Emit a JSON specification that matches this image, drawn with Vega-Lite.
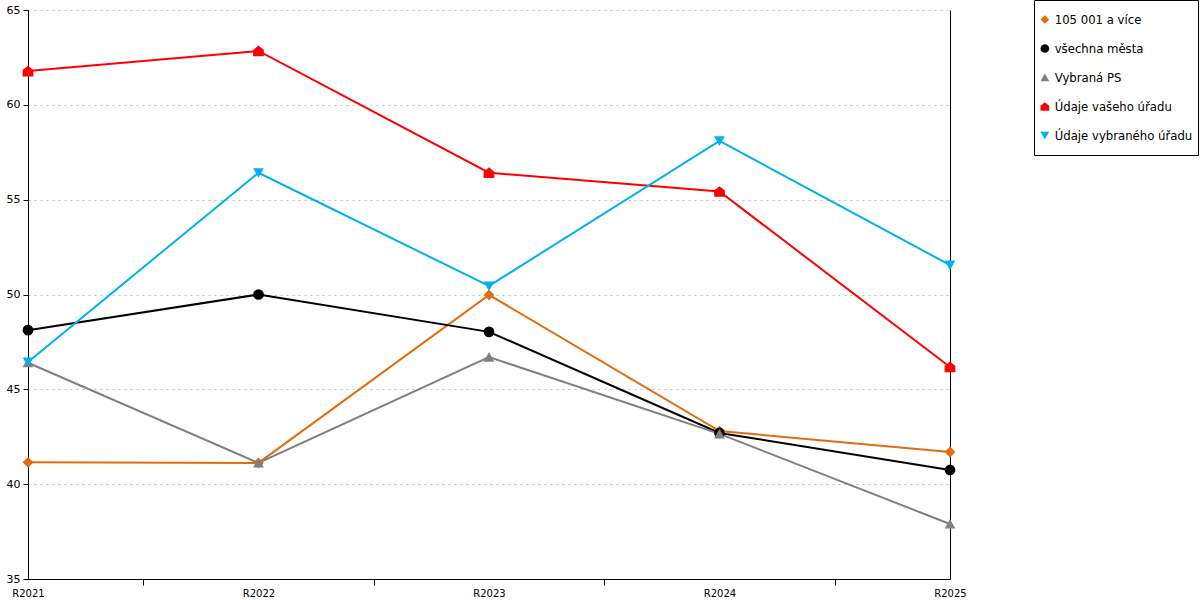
{
  "$schema": "https://vega.github.io/schema/vega-lite/v6.json",
  "width": 922,
  "height": 569,
  "autosize": {"type": "none"},
  "padding": {"left": 28, "top": 10, "right": 250, "bottom": 21},
  "background": "white",
  "config": {
    "font": "DejaVu Sans",
    "view": {"stroke": null},
    "axis": {"labelFont": "DejaVu Sans", "labelColor": "#000000", "domainColor": "#000000", "tickColor": "#000000"}
  },
  "data": {
    "values": [
      {"rok": 2021, "serie": "105 001 a více", "hodnota": 41.15},
      {"rok": 2022, "serie": "105 001 a více", "hodnota": 41.12},
      {"rok": 2023, "serie": "105 001 a více", "hodnota": 49.98},
      {"rok": 2024, "serie": "105 001 a více", "hodnota": 42.8},
      {"rok": 2025, "serie": "105 001 a více", "hodnota": 41.7},
      {"rok": 2021, "serie": "všechna města", "hodnota": 48.12},
      {"rok": 2022, "serie": "všechna města", "hodnota": 50.0},
      {"rok": 2023, "serie": "všechna města", "hodnota": 48.03},
      {"rok": 2024, "serie": "všechna města", "hodnota": 42.7},
      {"rok": 2025, "serie": "všechna města", "hodnota": 40.75},
      {"rok": 2021, "serie": "Vybraná PS", "hodnota": 46.4},
      {"rok": 2022, "serie": "Vybraná PS", "hodnota": 41.12},
      {"rok": 2023, "serie": "Vybraná PS", "hodnota": 46.7},
      {"rok": 2024, "serie": "Vybraná PS", "hodnota": 42.65},
      {"rok": 2025, "serie": "Vybraná PS", "hodnota": 37.9},
      {"rok": 2021, "serie": "Údaje vašeho úřadu", "hodnota": 61.78},
      {"rok": 2022, "serie": "Údaje vašeho úřadu", "hodnota": 62.84},
      {"rok": 2023, "serie": "Údaje vašeho úřadu", "hodnota": 56.42},
      {"rok": 2024, "serie": "Údaje vašeho úřadu", "hodnota": 55.43},
      {"rok": 2025, "serie": "Údaje vašeho úřadu", "hodnota": 46.18},
      {"rok": 2021, "serie": "Údaje vybraného úřadu", "hodnota": 46.44},
      {"rok": 2022, "serie": "Údaje vybraného úřadu", "hodnota": 56.42},
      {"rok": 2023, "serie": "Údaje vybraného úřadu", "hodnota": 50.45},
      {"rok": 2024, "serie": "Údaje vybraného úřadu", "hodnota": 58.1},
      {"rok": 2025, "serie": "Údaje vybraného úřadu", "hodnota": 51.55}
    ]
  },
  "encoding": {
    "x": {
      "field": "rok",
      "type": "quantitative",
      "scale": {"domain": [2021, 2025], "nice": false, "zero": false},
      "axis": {
        "title": null,
        "values": [2021, 2021.5, 2022, 2022.5, 2023, 2023.5, 2024, 2024.5, 2025],
        "labelExpr": "datum.value % 1 === 0 ? 'R' + datum.value : ''",
        "labelOverlap": false,
        "labelFlush": false,
        "labelFontSize": 10,
        "labelPadding": 3,
        "tickSize": 6,
        "tickOpacity": {"condition": {"test": "datum.value % 1 === 0", "value": 0}, "value": 1},
        "grid": false,
        "domainColor": "#000000"
      }
    },
    "color": {
      "field": "serie",
      "type": "nominal",
      "scale": {
        "domain": ["105 001 a více", "všechna města", "Vybraná PS", "Údaje vašeho úřadu", "Údaje vybraného úřadu"],
        "range": ["#E46C0A", "#000000", "#808080", "#FF0000", "#00B0F0"]
      },
      "legend": {
        "title": null,
        "orient": "none",
        "legendX": 1006,
        "legendY": -10,
        "strokeColor": "#000000",
        "padding": 5,
        "labelFont": "DejaVu Sans",
        "labelFontSize": 11.7,
        "labelColor": "#000000",
        "symbolSize": 75,
        "clipHeight": 29,
        "rowPadding": 0,
        "labelOffset": 4,
        "symbolStrokeWidth": 0
      }
    }
  },
  "layer": [
    {
      "mark": {"type": "line", "strokeWidth": 2},
      "encoding": {
        "y": {
          "field": "hodnota",
          "type": "quantitative",
          "scale": {"domain": [35, 65], "nice": false, "zero": false},
          "axis": {
            "title": null,
            "values": [35, 40, 45, 50, 55, 60, 65],
            "tickSize": 5,
            "labelFontSize": 11,
            "labelPadding": 3,
            "grid": true,
            "gridColor": "#c0c0c0",
            "gridDash": [2, 4],
            "gridWidth": 1
          }
        }
      }
    },
    {
      "mark": {"type": "point", "filled": true, "size": 115, "opacity": 1},
      "encoding": {
        "y": {
          "field": "hodnota",
          "type": "quantitative",
          "axis": {"orient": "right", "title": null, "labels": false, "ticks": false, "grid": false, "domainColor": "#000000"}
        },
        "shape": {
          "field": "serie",
          "type": "nominal",
          "scale": {
            "domain": ["105 001 a více", "všechna města", "Vybraná PS", "Údaje vašeho úřadu", "Údaje vybraného úřadu"],
            "range": ["diamond", "circle", "M-1,0.85L1,0.85L0,-0.95Z", "M-1,1L1,1L1,-0.2L0,-1L-1,-0.2Z", "M-1,-0.85L1,-0.85L0,0.95Z"]
          },
          "legend": {
            "title": null,
            "orient": "none",
            "legendX": 1006,
            "legendY": -10,
            "strokeColor": "#000000",
            "padding": 5,
            "labelFont": "DejaVu Sans",
            "labelFontSize": 11.7,
            "labelColor": "#000000",
            "symbolSize": 75,
            "clipHeight": 29,
            "rowPadding": 0,
            "labelOffset": 4,
            "symbolStrokeWidth": 0
          }
        }
      }
    }
  ],
  "resolve": {"axis": {"y": "independent"}}
}
